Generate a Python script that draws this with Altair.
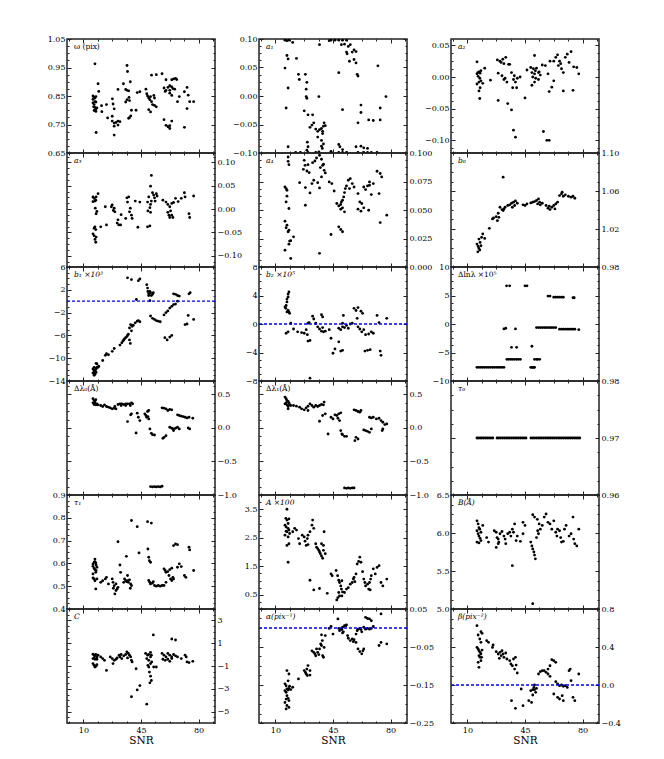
import math
import altair as alt
import pandas as pd

# ---------------- data (SNR, value) ----------------
OMEGA = [(17.0,0.963),(18.9,0.893),(19.3,0.866),(15.8,0.850),(16.5,0.846),(17.0,0.843),(17.6,0.848),(15.8,0.838),(17.0,0.830),(17.6,0.829),(15.8,0.826),(16.5,0.820),(17.0,0.810),(18.2,0.808),(17.4,0.803),(16.5,0.799),(17.6,0.796),(16.2,0.812),(17.7,0.722),(21.0,0.816),(24.0,0.820),(21.2,0.795),(24.7,0.773),(27.5,0.779),(27.6,0.840),(28.0,0.822),(28.7,0.805),(27.5,0.762),(28.7,0.755),(29.8,0.757),(31.0,0.762),(32.2,0.760),(31.0,0.748),(28.7,0.744),(28.7,0.713),(31.0,0.873),(34.3,0.893),(36.5,0.957),(36.8,0.936),(35.7,0.873),(36.5,0.870),(37.5,0.868),(37.7,0.845),(36.5,0.837),(35.7,0.829),(38.0,0.834),(38.5,0.900),(39.2,0.800),(38.8,0.780),(38.0,0.774),(37.5,0.772),(42.0,0.800),(42.7,0.862),(44.3,0.865),(48.0,0.874),(48.5,0.858),(49.0,0.850),(49.7,0.843),(50.4,0.837),(50.8,0.848),(51.4,0.830),(52.0,0.820),(53.2,0.817),(49.7,0.802),(50.8,0.794),(52.8,0.852),(53.2,0.843),(54.3,0.812),(51.4,0.923),(54.3,0.925),(57.8,0.928),(59.0,0.878),(59.7,0.866),(60.2,0.870),(61.4,0.880),(62.5,0.886),(63.7,0.882),(64.4,0.876),(65.5,0.874),(66.0,0.912),(66.7,0.908),(63.7,0.907),(64.8,0.910),(60.2,0.907),(62.5,0.860),(63.7,0.852),(62.5,0.870),(59.0,0.767),(60.2,0.747),(61.4,0.742),(62.5,0.736),(63.7,0.762),(62.5,0.746),(67.2,0.830),(68.3,0.848),(71.4,0.865),(73.0,0.880),(73.7,0.853),(74.6,0.830),(73.0,0.806),(77.0,0.830),(71.4,0.740)]

A1 = [(15.8,0.098),(17.0,0.097),(18.2,0.098),(20.5,0.094),(15.8,0.049),(17.0,0.071),(17.7,0.065),(22.8,0.066),(17.7,0.014),(16.5,-0.021),(24.0,0.038),(24.5,0.029),(28.2,0.038),(29.1,0.024),(28.7,0.012),(28.7,-0.001),(29.1,-0.004),(36.4,-0.001),(27.5,-0.026),(29.8,-0.033),(32.6,-0.033),(36.8,0.090),(31.0,-0.055),(32.2,-0.051),(33.3,-0.047),(34.5,-0.058),(35.7,-0.062),(36.8,-0.059),(38.0,-0.057),(39.2,-0.053),(39.6,-0.047),(40.3,-0.052),(38.7,-0.062),(42.7,0.097),(43.8,0.098),(46.2,0.098),(48.5,0.098),(50.8,0.098),(53.2,0.098),(48.5,0.041),(50.1,0.090),(52.0,0.091),(54.3,0.087),(55.5,0.090),(53.2,0.077),(53.6,0.074),(55.0,0.061),(56.7,0.077),(57.8,0.081),(59.0,0.078),(57.8,0.064),(59.0,0.058),(59.7,0.038),(60.2,0.035),(50.8,-0.024),(62.0,-0.016),(62.0,-0.029),(60.2,-0.047),(66.7,-0.042),(69.5,-0.043),(73.7,-0.042),(72.3,0.053),(73.7,-0.021),(77.2,-0.001),(17.7,-0.089),(22.3,-0.099),(25.2,-0.099),(29.8,-0.099),(34.5,-0.099),(43.8,-0.099),(48.5,-0.099),(50.8,-0.099),(53.2,-0.099),(60.2,-0.099),(63.7,-0.099),(66.0,-0.099),(68.3,-0.099),(71.8,-0.099),(38.7,-0.066),(35.7,-0.072),(38.0,-0.078),(39.2,-0.084),(38.0,-0.088),(38.5,-0.092),(36.4,-0.098),(29.4,-0.081),(29.8,-0.089),(29.1,-0.095),(48.5,-0.085),(49.2,-0.089),(50.8,-0.094),(43.8,-0.097),(59.0,-0.089),(62.0,-0.088),(63.7,-0.091),(66.0,-0.092)]

A2 = [(15.8,0.024),(16.3,0.007),(17.0,0.008),(17.7,0.006),(18.2,0.010),(15.8,0.005),(16.5,0.001),(17.5,-0.002),(17.0,-0.008),(18.2,-0.006),(15.8,-0.011),(17.7,-0.017),(17.0,-0.022),(17.5,-0.034),(19.3,-0.010),(20.5,0.014),(24.0,-0.005),(28.2,0.027),(29.8,0.025),(30.5,0.023),(31.5,0.028),(33.3,0.031),(32.2,0.021),(35.0,0.020),(28.7,0.006),(31.0,0.002),(32.2,-0.004),(32.9,-0.002),(34.0,-0.008),(28.7,-0.037),(35.7,0.020),(36.8,0.007),(38.5,0.002),(38.0,-0.004),(39.2,-0.008),(40.3,-0.002),(39.9,-0.017),(37.5,-0.017),(34.5,-0.042),(36.8,-0.052),(45.0,-0.033),(42.0,0.000),(46.2,0.011),(48.5,0.015),(49.2,0.007),(50.1,0.013),(50.8,0.005),(51.3,0.010),(52.0,0.014),(53.2,0.007),(53.6,0.008),(49.7,0.000),(51.5,-0.002),(50.8,-0.008),(53.2,-0.004),(54.3,0.003),(55.5,0.019),(57.4,0.018),(50.8,0.034),(49.2,-0.013),(59.0,0.005),(59.7,-0.023),(61.3,-0.016),(60.2,0.025),(62.5,0.025),(63.7,0.031),(64.8,0.035),(66.0,0.025),(65.3,0.018),(66.7,0.021),(67.2,0.013),(68.3,0.007),(69.5,0.031),(70.7,0.036),(71.8,0.023),(73.0,0.040),(74.6,0.016),(76.5,0.015),(77.7,0.005),(62.5,-0.006),(68.3,-0.022),(74.2,-0.021),(38.0,-0.084),(39.2,-0.095),(56.2,-0.086),(58.3,-0.100),(59.7,-0.100)]

A3 = [(15.8,0.026),(16.5,0.023),(17.0,0.017),(17.5,0.019),(15.8,0.016),(17.7,0.026),(18.9,0.033),(18.2,-0.005),(17.7,-0.010),(17.2,0.002),(17.0,-0.038),(16.5,-0.041),(17.5,-0.044),(15.8,-0.053),(16.5,-0.057),(17.7,-0.060),(17.0,-0.065),(17.5,-0.071),(20.5,-0.038),(24.0,-0.034),(23.3,0.005),(27.0,0.005),(27.5,0.009),(28.7,0.002),(28.2,-0.003),(29.1,-0.006),(30.5,-0.030),(31.5,-0.034),(32.6,-0.034),(31.0,-0.023),(32.9,-0.012),(35.7,-0.020),(36.4,0.024),(37.5,0.026),(36.8,0.015),(38.5,0.002),(38.0,-0.006),(39.2,-0.013),(39.6,-0.020),(41.5,0.017),(43.1,-0.039),(44.3,0.015),(49.0,0.015),(49.7,0.026),(50.4,0.003),(49.2,-0.004),(50.8,-0.007),(50.8,0.010),(49.0,-0.038),(50.4,-0.036),(51.3,0.072),(50.8,0.049),(52.0,0.035),(52.7,0.030),(53.2,0.024),(53.6,0.017),(54.3,0.033),(54.8,0.028),(51.3,0.017),(58.3,0.019),(60.2,0.015),(61.3,0.010),(62.5,0.005),(63.7,0.012),(64.8,0.014),(63.0,-0.004),(63.7,-0.013),(64.4,-0.018),(62.0,-0.013),(61.3,-0.007),(62.5,-0.018),(66.0,0.023),(67.6,0.016),(69.5,0.023),(71.4,0.035),(71.8,0.026),(74.2,-0.010),(74.6,-0.018),(77.0,0.028)]

A4 = [(17.7,0.0965),(17.7,0.0927),(18.2,0.0898),(15.8,0.0702),(16.5,0.0688),(17.0,0.0673),(17.0,0.0621),(16.5,0.0571),(18.2,0.0513),(15.8,0.0402),(17.0,0.0367),(16.5,0.0344),(18.2,0.0323),(17.7,0.0309),(18.6,0.0227),(19.3,0.0230),(15.8,0.0148),(21.0,0.0265),(18.2,0.0200),(19.3,0.0075),(24.7,0.0740),(27.5,0.0936),(28.0,0.0892),(27.0,0.0857),(29.8,0.0898),(29.1,0.0842),(30.5,0.0828),(32.6,0.0915),(34.0,0.0930),(35.0,0.0956),(36.8,0.0980),(38.0,0.0945),(38.7,0.0892),(39.6,0.0848),(40.3,0.0825),(39.2,0.0901),(37.3,0.0872),(28.2,0.0697),(31.0,0.0650),(32.2,0.0732),(33.3,0.0761),(35.7,0.0740),(36.8,0.0694),(38.0,0.0790),(28.2,0.0542),(42.7,0.0746),(44.3,0.0732),(45.7,0.0667),(47.3,0.0557),(48.5,0.0536),(49.7,0.0548),(50.1,0.0571),(50.8,0.0586),(51.5,0.0615),(52.0,0.0653),(52.5,0.0688),(53.2,0.0711),(54.3,0.0761),(55.5,0.0775),(55.0,0.0688),(56.7,0.0732),(57.8,0.0702),(50.8,0.0519),(49.7,0.0507),(52.0,0.0484),(43.8,0.0285),(48.5,0.0352),(49.7,0.0329),(50.8,0.0309),(60.2,0.0644),(61.3,0.0571),(62.5,0.0557),(63.7,0.0702),(64.8,0.0679),(66.0,0.0711),(67.2,0.0717),(68.3,0.0635),(69.5,0.0732),(67.2,0.0746),(66.7,0.0498),(62.0,0.0490),(60.2,0.0507),(63.7,0.0519),(71.8,0.0840),(73.7,0.0820),(74.6,0.0790),(73.0,0.0644),(73.7,0.0390),(77.7,0.0455),(36.8,0.0120)]

B0 = [(31.7,1.0746),(15.8,1.0041),(16.5,1.0017),(17.0,0.9996),(17.5,0.9978),(16.3,0.9960),(18.2,1.0024),(17.7,1.0059),(17.0,1.0094),(18.6,1.0112),(20.5,1.0101),(19.3,1.0147),(23.3,1.0207),(25.2,1.0306),(25.9,1.0316),(27.5,1.0330),(28.7,1.0366),(29.1,1.0323),(28.2,1.0288),(29.8,1.0429),(31.0,1.0404),(32.2,1.0411),(32.9,1.0429),(31.7,1.0394),(34.5,1.0447),(35.7,1.0454),(36.8,1.0471),(38.0,1.0482),(37.3,1.0429),(39.2,1.0496),(40.3,1.0471),(38.7,1.0447),(43.8,1.0454),(45.0,1.0447),(46.2,1.0464),(48.5,1.0475),(49.7,1.0482),(50.8,1.0489),(52.0,1.0500),(53.2,1.0517),(53.9,1.0482),(52.7,1.0464),(54.3,1.0454),(55.5,1.0471),(57.8,1.0447),(59.0,1.0419),(60.2,1.0404),(61.3,1.0429),(62.5,1.0447),(63.7,1.0464),(64.8,1.0482),(63.2,1.0411),(59.7,1.0440),(66.0,1.0552),(67.2,1.0570),(68.3,1.0545),(67.6,1.0588),(69.5,1.0560),(71.4,1.0545),(73.0,1.0535),(74.2,1.0545),(75.3,1.0524)]

B1 = [(15.8,-11.9),(16.5,-12.2),(17.0,-12.4),(17.5,-12.0),(17.7,-11.8),(18.2,-11.6),(15.8,-12.6),(17.0,-12.8),(17.7,-12.5),(16.5,-13.0),(18.2,-11.0),(16.5,-11.6),(17.0,-12.2),(18.9,-11.6),(19.3,-11.4),(17.7,-10.9),(21.7,-10.4),(23.3,-9.5),(24.0,-9.2),(25.2,-9.4),(27.5,-8.8),(28.7,-8.3),(32.2,-7.7),(33.3,-7.3),(34.0,-7.0),(34.5,-6.8),(35.0,-6.6),(35.7,-6.4),(36.4,-6.2),(36.8,-6.0),(37.3,-5.8),(38.0,-4.7),(38.7,-4.1),(39.6,-4.4),(40.3,-4.2),(39.2,-5.2),(41.5,-3.8),(42.7,-3.5),(43.4,-3.4),(44.3,-3.6),(38.0,-6.8),(38.5,-7.4),(36.8,4.1),(39.2,3.8),(42.2,0.3),(43.4,3.6),(44.3,3.9),(48.5,2.9),(49.0,2.3),(49.2,1.7),(49.7,1.3),(50.4,1.7),(50.8,1.5),(51.3,1.0),(52.0,1.2),(52.5,1.5),(49.7,1.0),(50.4,0.1),(50.8,-2.6),(52.0,-3.0),(53.2,-3.2),(54.3,-3.4),(55.5,-3.5),(56.7,-3.6),(59.5,-6.4),(60.9,-6.8),(62.5,-6.3),(63.7,-6.0),(59.0,-2.4),(60.2,-2.0),(61.3,-1.7),(62.5,-1.2),(63.7,-0.9),(64.8,-0.6),(66.0,-0.5),(67.2,0.0),(64.8,1.3),(66.0,1.2),(67.2,1.0),(68.3,0.9),(71.8,-4.1),(73.0,-4.0),(73.7,-2.5),(74.2,1.3),(74.9,1.5),(77.0,-3.2)]

B2 = [(15.8,2.4),(16.5,2.6),(17.0,3.1),(17.7,3.8),(17.7,4.2),(18.2,4.5),(17.0,3.5),(16.3,2.2),(17.7,1.9),(18.2,1.7),(18.6,1.5),(17.0,1.7),(17.7,-1.1),(16.5,-1.3),(19.3,0.1),(21.0,-0.7),(23.5,-1.1),(25.9,-1.2),(27.5,-1.3),(29.8,0.1),(30.5,0.2),(28.7,-0.8),(29.4,-1.5),(29.8,-2.4),(31.0,-2.3),(32.6,1.1),(33.3,0.7),(34.5,0.1),(35.7,-0.4),(36.8,-0.7),(38.0,-1.0),(38.7,-0.5),(39.2,-1.1),(38.0,1.3),(38.7,1.0),(40.3,-1.0),(42.7,-0.8),(43.8,-2.0),(45.0,-4.1),(46.2,-3.5),(48.5,-2.5),(49.7,-3.8),(50.8,-3.7),(48.5,-0.6),(49.7,-0.8),(50.8,-0.4),(52.0,-0.5),(53.2,-0.2),(54.3,-0.6),(55.5,0.0),(56.7,0.1),(50.8,0.1),(51.3,1.2),(57.8,2.2),(59.0,1.9),(60.2,2.3),(62.0,1.8),(63.0,1.5),(59.7,0.8),(60.2,-0.4),(61.3,-0.7),(62.5,-1.1),(63.7,-0.8),(64.8,-1.5),(66.7,-1.4),(68.3,-1.1),(69.5,-1.3),(64.4,-3.8),(66.0,-3.7),(67.6,-3.6),(71.8,1.2),(73.0,0.2),(73.7,-3.8),(74.2,-4.4),(77.7,0.8),(31.0,-7.6)]

DLNL = [(15.8,-7.6),(17.0,-7.6),(18.2,-7.6),(19.3,-7.6),(20.5,-7.6),(21.7,-7.6),(22.8,-7.6),(24.0,-7.6),(25.2,-7.6),(26.3,-7.6),(27.5,-7.6),(28.7,-7.6),(29.8,-7.6),(31.0,-7.6),(32.2,-7.6),(32.2,-0.86),(33.3,-0.75),(39.2,-0.86),(33.8,6.7),(35.7,6.7),(36.8,-4.1),(39.9,-4.1),(34.0,-6.2),(35.2,-6.2),(36.4,-6.2),(37.5,-6.2),(38.7,-6.2),(39.9,-6.2),(41.0,-6.2),(42.2,-6.2),(45.0,6.7),(46.2,6.7),(49.2,-3.9),(48.5,-7.6),(49.2,-7.6),(49.7,-7.6),(50.4,-7.6),(50.8,-7.6),(50.8,-6.2),(52.0,-6.2),(52.7,-6.2),(53.9,-6.2),(52.0,-0.63),(53.2,-0.63),(54.3,-0.63),(55.5,-0.63),(56.7,-0.63),(57.8,-0.63),(59.0,-0.63),(60.2,-0.63),(61.3,-0.63),(62.5,-0.63),(63.7,-0.63),(59.0,4.9),(60.2,4.9),(62.5,4.7),(63.7,4.7),(64.8,4.7),(66.0,4.7),(67.2,4.7),(68.3,4.7),(74.2,4.6),(74.9,4.6),(66.0,-0.9),(67.2,-0.9),(68.3,-0.9),(69.5,-0.9),(70.7,-0.9),(71.8,-0.9),(73.0,-0.9),(74.2,-0.9),(75.3,-0.9),(77.7,-1.0)]

DL0 = [(15.8,0.435),(16.5,0.41),(17.0,0.385),(17.5,0.42),(15.8,0.375),(16.5,0.35),(17.7,0.345),(18.2,0.36),(18.9,0.345),(17.0,0.36),(20.5,0.335),(21.7,0.32),(22.8,0.345),(24.0,0.32),(25.2,0.31),(26.3,0.30),(27.5,0.285),(28.7,0.295),(29.1,0.32),(29.8,0.285),(31.0,0.35),(32.2,0.36),(33.3,0.36),(34.5,0.35),(35.7,0.36),(36.8,0.36),(38.0,0.36),(39.2,0.375),(39.9,0.36),(38.5,0.335),(35.7,0.335),(32.9,0.335),(36.8,0.095),(38.7,0.195),(39.2,0.21),(42.7,0.22),(43.4,0.16),(44.3,0.11),(42.0,-0.075),(47.3,0.21),(48.0,0.185),(48.5,0.16),(49.2,0.17),(49.7,0.135),(49.0,0.245),(49.7,0.26),(50.4,-0.015),(51.3,-0.08),(52.0,-0.10),(53.2,-0.105),(57.8,0.30),(59.0,0.295),(60.2,0.285),(61.3,0.26),(62.5,0.275),(63.7,0.27),(62.5,0.01),(63.7,-0.005),(64.8,-0.015),(66.0,-0.005),(67.2,0.01),(64.8,-0.04),(68.3,-0.015),(59.0,-0.14),(60.2,-0.115),(58.3,-0.155),(67.2,0.195),(68.3,0.185),(69.5,0.175),(70.7,0.17),(71.8,0.16),(73.0,0.15),(74.2,0.16),(76.5,0.145),(73.7,0.0),(74.6,-0.015),(50.8,-0.875),(52.0,-0.88),(53.2,-0.875),(54.3,-0.88),(55.5,-0.875),(56.7,-0.88),(57.8,-0.87)]

DL1 = [(15.8,0.46),(16.5,0.435),(17.0,0.41),(17.7,0.395),(18.2,0.375),(15.8,0.36),(17.0,0.345),(17.7,0.32),(18.6,0.35),(19.3,0.335),(17.7,0.285),(16.5,0.375),(21.0,0.335),(22.8,0.325),(24.7,0.31),(25.9,0.285),(27.5,0.27),(28.7,0.30),(29.8,0.325),(31.0,0.36),(32.2,0.335),(33.3,0.31),(34.5,0.335),(35.7,0.32),(36.8,0.335),(38.0,0.35),(39.2,0.345),(39.6,0.385),(29.8,0.26),(36.8,0.10),(38.7,0.185),(40.3,0.21),(42.0,-0.09),(43.8,0.16),(45.0,0.135),(46.2,0.195),(47.3,0.185),(48.0,0.145),(48.5,0.21),(49.0,0.11),(49.7,0.225),(49.7,-0.04),(50.8,-0.10),(52.0,-0.125),(53.2,-0.125),(50.4,-0.09),(57.8,0.27),(59.0,0.26),(60.2,0.245),(61.3,0.235),(62.0,0.26),(63.7,-0.03),(64.8,-0.04),(66.0,-0.05),(67.2,-0.065),(68.3,-0.015),(59.0,-0.14),(60.2,-0.165),(58.3,-0.19),(67.2,0.16),(68.3,0.15),(69.5,0.16),(71.4,0.135),(73.0,0.145),(74.2,0.11),(75.3,0.085),(76.5,0.05),(77.7,0.06),(75.3,-0.015),(74.9,-0.04),(52.0,-0.895),(53.2,-0.90),(54.3,-0.895),(55.5,-0.90),(56.7,-0.895),(57.8,-0.895)]

TAU0_SNR = [15.8,16.8,17.8,18.8,19.9,21.0,22.1,23.2,24.3,25.4,28.0,29.1,30.2,31.3,32.4,33.5,34.6,35.7,36.8,37.9,39.0,40.1,41.2,42.3,43.4,44.5,45.6,48.6,49.7,50.8,51.9,53.0,54.1,55.2,56.3,57.4,58.5,59.6,60.7,61.8,62.9,64.0,65.1,66.2,67.3,68.4,69.5,70.6,71.7,72.8,73.9,75.0,76.1,77.2,78.3]
TAU0_VAL = 0.97

TAU1 = [(15.8,0.597),(16.5,0.605),(17.0,0.608),(17.5,0.602),(17.7,0.593),(15.8,0.587),(16.5,0.578),(17.0,0.573),(17.7,0.568),(18.2,0.583),(17.0,0.619),(17.5,0.561),(15.8,0.554),(16.5,0.532),(17.0,0.524),(18.2,0.532),(17.5,0.488),(15.8,0.536),(20.5,0.517),(21.7,0.524),(23.3,0.532),(24.0,0.539),(25.2,0.510),(27.5,0.532),(28.0,0.517),(28.7,0.502),(28.2,0.491),(29.1,0.466),(29.8,0.481),(30.5,0.488),(31.0,0.495),(29.8,0.510),(31.0,0.695),(32.2,0.593),(32.6,0.561),(34.5,0.517),(35.0,0.532),(35.7,0.524),(36.4,0.520),(36.8,0.524),(37.3,0.517),(38.0,0.528),(38.7,0.510),(39.2,0.503),(38.5,0.491),(36.8,0.547),(36.1,0.631),(39.2,0.788),(42.7,0.761),(43.8,0.646),(49.2,0.663),(49.7,0.627),(50.1,0.612),(50.8,0.605),(49.0,0.783),(51.3,0.777),(49.7,0.525),(50.4,0.517),(50.8,0.510),(52.0,0.514),(53.2,0.503),(54.3,0.500),(55.5,0.503),(56.7,0.500),(57.8,0.503),(52.5,0.520),(59.0,0.576),(59.7,0.569),(60.2,0.561),(61.3,0.564),(62.5,0.573),(63.7,0.579),(62.0,0.547),(63.0,0.532),(64.4,0.539),(64.8,0.532),(63.7,0.525),(60.2,0.517),(59.0,0.503),(64.8,0.678),(66.0,0.685),(67.2,0.682),(67.2,0.583),(68.3,0.598),(69.5,0.586),(71.4,0.547),(72.3,0.539),(74.2,0.671),(74.6,0.659),(77.0,0.569)]

AMP = [(17.0,3.50),(16.3,3.18),(17.0,3.12),(18.2,3.16),(17.7,3.00),(15.8,2.94),(16.5,2.88),(17.7,2.83),(18.2,2.77),(17.0,2.71),(18.6,2.65),(15.8,2.59),(17.7,2.53),(16.5,2.73),(18.2,2.29),(17.0,2.23),(17.7,1.64),(20.5,2.71),(21.7,2.83),(22.8,2.77),(24.0,2.47),(24.7,2.29),(26.3,2.59),(27.5,2.53),(28.0,2.38),(28.7,2.23),(29.4,2.47),(29.8,2.59),(31.0,2.71),(32.2,2.94),(32.6,3.12),(33.3,2.83),(29.8,2.26),(34.5,2.29),(35.0,2.17),(35.7,2.12),(36.4,2.06),(36.8,2.00),(37.3,1.94),(38.0,1.86),(38.7,1.78),(38.0,2.29),(39.2,2.23),(39.6,2.71),(39.2,2.06),(40.3,1.94),(31.0,1.01),(33.3,0.67),(36.8,0.72),(41.5,0.55),(43.8,1.23),(44.5,1.17),(46.9,1.35),(47.8,1.17),(48.5,1.01),(49.0,0.93),(49.7,0.81),(50.1,0.70),(50.8,0.60),(49.0,0.46),(47.3,0.32),(48.0,0.40),(48.5,0.58),(50.4,0.46),(52.0,0.58),(53.2,0.70),(54.3,0.75),(55.5,0.87),(56.7,0.93),(57.4,1.05),(57.8,1.11),(58.3,0.96),(59.0,1.23),(59.7,1.58),(60.6,1.67),(61.3,1.82),(62.0,1.64),(63.0,1.31),(63.7,1.05),(64.4,0.93),(64.8,0.81),(66.0,0.87),(67.2,0.93),(67.9,1.05),(68.3,1.17),(66.7,0.70),(67.6,0.67),(69.5,1.41),(70.7,1.23),(71.8,1.46),(73.0,1.52),(74.2,0.93),(75.3,0.81),(77.7,1.05),(50.4,0.99)]

BW = [(15.8,6.16),(16.5,6.12),(17.0,6.07),(17.5,6.05),(15.8,6.03),(16.5,5.99),(17.0,5.96),(17.7,5.93),(18.2,5.90),(15.8,5.88),(17.0,5.87),(18.2,6.01),(19.3,6.10),(21.7,5.94),(22.8,5.88),(26.3,6.03),(27.5,6.01),(28.0,5.94),(28.7,5.92),(29.1,5.88),(27.5,5.81),(28.7,5.86),(29.8,5.99),(31.0,6.02),(32.2,5.96),(32.9,5.92),(33.3,5.86),(34.5,5.99),(35.7,6.01),(36.4,5.96),(37.3,6.05),(38.0,6.01),(38.7,6.12),(39.6,5.90),(40.3,5.96),(42.2,5.89),(43.8,5.99),(37.3,5.57),(43.8,6.14),(45.0,6.10),(48.5,5.88),(49.2,5.83),(49.7,5.79),(50.4,5.75),(50.8,5.71),(51.3,5.66),(52.0,5.94),(53.2,5.99),(52.7,6.03),(49.7,6.24),(50.8,6.21),(52.5,6.18),(53.6,6.12),(54.3,6.05),(55.5,6.10),(56.7,6.21),(57.8,6.25),(59.0,6.14),(60.2,6.12),(61.3,6.05),(62.5,6.16),(63.7,6.01),(64.4,5.96),(64.8,6.05),(66.0,6.03),(66.7,5.94),(67.2,5.88),(68.3,5.89),(69.0,6.05),(70.0,6.10),(71.8,5.96),(73.0,5.99),(74.2,6.21),(74.6,5.92),(75.3,5.86),(76.5,5.83),(77.7,6.05),(49.7,5.07)]

CC = [(15.8,0.04),(16.5,-0.05),(17.0,-0.11),(17.5,0.01),(18.2,-0.20),(15.8,-0.35),(16.5,-0.29),(17.0,-0.41),(15.8,-0.79),(16.5,-0.94),(17.7,-1.00),(18.2,-0.88),(17.0,-1.09),(18.9,-0.05),(18.2,-0.41),(20.5,-0.20),(21.7,-0.35),(22.8,-0.50),(24.0,-1.39),(26.3,-0.20),(27.5,-0.35),(28.7,-0.50),(28.0,-0.79),(29.8,-0.41),(30.5,-0.29),(31.7,-0.05),(32.2,-0.20),(32.9,0.01),(33.3,-0.35),(34.5,-0.11),(35.7,0.01),(36.4,0.24),(37.3,0.10),(38.0,-0.05),(38.7,-0.20),(39.2,-0.50),(39.6,-0.64),(36.8,-0.29),(42.0,-1.24),(44.3,-2.72),(42.7,-3.10),(39.2,-3.70),(47.8,0.10),(49.0,-0.05),(49.7,0.01),(50.8,0.19),(51.3,-0.05),(48.5,-0.35),(49.7,-0.50),(50.8,-0.20),(51.5,-0.64),(50.8,-0.79),(49.7,-1.09),(50.1,-1.53),(50.8,-1.89),(51.3,-2.27),(50.4,-2.48),(49.2,-0.94),(52.7,-1.09),(48.5,-4.35),(52.5,1.73),(54.3,-1.09),(57.8,0.10),(59.0,-0.05),(60.2,-0.20),(61.3,0.10),(62.5,-0.05),(63.7,-0.20),(64.8,0.01),(66.0,-0.11),(67.2,-0.20),(58.3,-0.41),(59.7,-0.50),(61.3,-0.41),(62.5,-0.59),(63.7,-0.35),(63.7,1.37),(66.0,1.28),(69.5,-0.35),(71.8,-0.05),(72.5,-0.20),(73.0,-0.64),(74.2,-0.70),(76.5,-0.59)]

ALPHA = [(15.8,-0.147),(16.5,-0.152),(17.0,-0.160),(17.7,-0.163),(18.2,-0.159),(15.8,-0.165),(16.5,-0.169),(17.0,-0.178),(17.7,-0.185),(18.2,-0.191),(15.8,-0.196),(17.0,-0.204),(18.2,-0.209),(16.5,-0.213),(17.7,-0.139),(17.0,-0.112),(18.2,-0.121),(18.6,-0.153),(19.3,-0.162),(20.5,-0.156),(16.5,-0.187),(24.0,-0.134),(27.5,-0.112),(28.2,-0.117),(28.7,-0.121),(29.1,-0.108),(29.8,-0.099),(31.0,-0.112),(29.4,-0.125),(31.0,-0.124),(32.2,-0.060),(33.3,-0.064),(34.0,-0.068),(34.5,-0.073),(35.0,-0.055),(35.7,-0.064),(36.4,-0.070),(36.8,-0.055),(37.5,-0.042),(38.0,-0.046),(38.7,-0.073),(39.2,-0.077),(39.6,-0.051),(38.5,-0.033),(38.0,-0.018),(40.3,-0.020),(42.7,-0.001),(43.8,0.004),(45.0,-0.016),(48.0,0.024),(48.5,-0.001),(49.0,-0.007),(49.7,-0.003),(50.4,-0.004),(50.8,0.002),(51.3,-0.010),(52.0,0.006),(52.7,0.006),(53.2,0.008),(53.9,-0.020),(54.3,-0.027),(55.5,-0.033),(56.7,-0.029),(57.4,-0.036),(57.8,-0.031),(50.8,-0.013),(59.0,-0.016),(59.7,-0.007),(60.2,-0.003),(61.3,-0.001),(62.0,-0.004),(62.5,-0.010),(63.7,0.002),(64.8,-0.003),(66.0,-0.001),(67.2,-0.003),(68.3,-0.001),(69.5,0.004),(59.0,-0.038),(60.2,-0.055),(61.3,-0.062),(62.5,-0.068),(63.2,-0.060),(63.7,-0.055),(64.8,0.028),(66.0,0.025),(67.2,0.024),(68.3,0.019),(73.0,-0.046),(74.2,-0.038),(74.2,0.037),(77.7,-0.042)]

BETA = [(15.8,0.625),(16.5,0.526),(18.2,0.561),(18.9,0.544),(17.5,0.484),(18.2,0.449),(15.8,0.396),(16.5,0.379),(17.0,0.361),(17.7,0.344),(18.2,0.326),(18.9,0.368),(17.0,0.309),(17.7,0.291),(18.2,0.256),(16.5,0.239),(17.0,0.186),(18.6,0.291),(21.7,0.467),(22.8,0.449),(25.2,0.396),(25.6,0.421),(27.5,0.351),(28.7,0.326),(29.8,0.344),(30.5,0.309),(31.0,0.361),(31.7,0.326),(32.2,0.291),(29.4,0.281),(33.3,0.337),(34.0,0.274),(35.7,0.256),(36.4,0.221),(37.3,0.203),(38.0,0.274),(39.2,0.291),(39.6,0.210),(40.3,0.126),(38.7,0.168),(36.8,-0.165),(39.2,-0.246),(42.7,-0.042),(43.8,-0.218),(47.3,-0.165),(49.0,-0.183),(49.7,-0.105),(50.4,-0.025),(50.8,-0.049),(51.5,-0.077),(52.0,-0.035),(50.8,0.000),(49.7,-0.049),(48.5,-0.060),(53.2,0.116),(54.3,0.140),(55.5,0.151),(56.7,0.151),(57.8,0.133),(59.0,0.116),(60.2,0.091),(61.3,0.267),(62.5,0.256),(63.7,0.239),(60.2,0.203),(59.0,0.168),(63.7,0.035),(64.8,0.011),(66.0,-0.007),(67.2,0.000),(68.3,-0.014),(69.5,-0.007),(70.7,-0.025),(62.5,-0.095),(64.8,-0.130),(66.0,-0.147),(67.6,-0.112),(68.3,-0.165),(71.8,0.151),(72.5,0.168),(73.0,0.046),(74.2,-0.130),(75.3,-0.165),(77.7,0.116)]

# x-axis tick positions
X_MAJOR = [10, 45, 80]
X_MINOR = [1.25, 18.75, 27.5, 36.25, 53.75, 62.5, 71.25, 88.75]

FONT = "DejaVu Serif"
FRAME = "#222222"

PANELS = [
    dict(data=OMEGA, label="ω (pix)", italic=False, domain=[0.65, 1.05], major=[0.65, 0.75, 0.85, 0.95, 1.05], fmt=".2f"),
    dict(data=A1, label="a₁", italic=True, domain=[-0.10, 0.10], major=[-0.10, -0.05, 0.0, 0.05, 0.10], fmt=".2f"),
    dict(data=A2, label="a₂", italic=True, domain=[-0.12, 0.06], major=[-0.10, -0.05, 0.0, 0.05], fmt=".2f"),
    dict(data=A3, label="a₃", italic=True, domain=[-0.124, 0.12], major=[-0.10, -0.05, 0.0, 0.05, 0.10], fmt=".2f"),
    dict(data=A4, label="a₄", italic=True, domain=[0.0, 0.10], major=[0.0, 0.025, 0.05, 0.075, 0.10], fmt=".3f"),
    dict(data=B0, label="b₀", italic=True, domain=[0.98, 1.10], major=[0.98, 1.02, 1.06, 1.10], fmt=".2f"),
    dict(data=B1, label="b₁ ×10³", italic=True, domain=[-14, 6], major=[-14, -10, -6, -2, 2, 6], fmt="d", ref=0),
    dict(data=B2, label="b₂ ×10⁵", italic=True, domain=[-8, 8], major=[-8, -4, 0, 4, 8], fmt="d", ref=0),
    dict(data=DLNL, label="Δlnλ ×10⁵", italic=False, domain=[-10, 10], major=[-10, -5, 0, 5, 10], fmt="d"),
    dict(data=DL0, label="Δλ₀(Å)", italic=False, domain=[-1.0, 0.7], major=[-1.0, -0.5, 0.0, 0.5], fmt=".1f"),
    dict(data=DL1, label="Δλ₁(Å)", italic=False, domain=[-1.0, 0.7], major=[-1.0, -0.5, 0.0, 0.5], fmt=".1f"),
    dict(data=[(s, TAU0_VAL) for s in TAU0_SNR], label="τ₀", italic=True, domain=[0.96, 0.98], major=[0.96, 0.97, 0.98], fmt=".2f"),
    dict(data=TAU1, label="τ₁", italic=True, domain=[0.4, 0.9], major=[0.4, 0.5, 0.6, 0.7, 0.8, 0.9], fmt=".1f"),
    dict(data=AMP, label="A ×100", italic=True, domain=[0.0, 4.0], major=[0.5, 1.5, 2.5, 3.5], fmt=".1f"),
    dict(data=BW, label="B(Å)", italic=True, domain=[5.0, 6.5], major=[5.0, 5.5, 6.0, 6.5], fmt=".1f"),
    dict(data=CC, label="C", italic=True, domain=[-6, 4], major=[-5, -3, -1, 1, 3], fmt="d"),
    dict(data=ALPHA, label="α(pix⁻¹)", italic=True, domain=[-0.25, 0.05], major=[-0.25, -0.15, -0.05, 0.05], fmt=".2f", ref=0),
    dict(data=BETA, label="β(pix⁻²)", italic=True, domain=[-0.4, 0.8], major=[-0.4, 0.0, 0.4, 0.8], fmt=".1f", ref=0),
]

W, H = 148, 114


def minor_ticks(major, domain):
    step = abs(major[1] - major[0]) / 4.0
    lo, hi = domain
    start = min(major)
    k = math.floor((lo - start) / step) - 1
    vals = []
    while True:
        v = start + k * step
        if v > hi + 1e-9:
            break
        if v >= lo - 1e-9 and all(abs(v - m) > step / 10 for m in major):
            vals.append(round(v, 6))
        k += 1
    return vals


def make_panel(spec, side, bottom):
    df = pd.DataFrame(spec["data"], columns=["snr", "v"])
    xs = alt.Scale(domain=[0, 90], nice=False, zero=False)
    ys = alt.Scale(domain=spec["domain"], nice=False, zero=False)
    other = "right" if side == "left" else "left"
    base = alt.Chart(df)
    if bottom:
        xaxis = alt.Axis(orient="bottom", values=X_MAJOR, ticks=False, domain=False, grid=False,
                         title="SNR", labelPadding=3, titlePadding=1, labelFlush=False)
    else:
        xaxis = None
    pts = base.mark_circle(size=8, color="black", opacity=1, clip=True).encode(
        x=alt.X("snr:Q", scale=xs, axis=xaxis),
        y=alt.Y("v:Q", scale=ys, axis=alt.Axis(orient=side, values=spec["major"], format=spec["fmt"],
                                               ticks=False, domain=False, grid=False, title=None,
                                               labelPadding=2, labelOverlap=False)),
    )
    layers = [pts]
    ymin = minor_ticks(spec["major"], spec["domain"])
    for xo, yo, xv, yv, sz in [("bottom", side, X_MAJOR, spec["major"], 4),
                               ("bottom", side, X_MINOR, ymin, 2),
                               ("top", other, X_MAJOR, spec["major"], 4),
                               ("top", other, X_MINOR, ymin, 2)]:
        layers.append(base.mark_point(opacity=0).encode(
            x=alt.X("snr:Q", scale=xs, axis=alt.Axis(orient=xo, values=xv, labels=False, domain=False,
                                                     grid=False, tickSize=sz, offset=-sz, title=None)),
            y=alt.Y("v:Q", scale=ys, axis=alt.Axis(orient=yo, values=yv, labels=False, domain=False,
                                                   grid=False, tickSize=sz, offset=-sz, title=None)),
        ))
    if "ref" in spec:
        layers.append(alt.Chart(pd.DataFrame({"v": [spec["ref"]]})).mark_rule(
            color="#0000ff", strokeDash=[3, 2], strokeWidth=1.3).encode(
            y=alt.Y("v:Q", scale=ys, axis=None)))
    txt = alt.Chart(pd.DataFrame({"t": [spec["label"]]})).mark_text(
        align="left", baseline="top", font=FONT, fontSize=7.5, color="black",
        fontStyle="italic" if spec["italic"] else "normal").encode(
        x=alt.value(7), y=alt.value(4), text="t:N")
    layers.append(txt)
    return alt.layer(*layers).properties(width=W, height=H).resolve_axis(x="independent", y="independent")


panels = []
for i, spec in enumerate(PANELS):
    row = i // 3
    side = "left" if row % 2 == 0 else "right"
    panels.append(make_panel(spec, side, row == 5))

chart = alt.concat(*panels, columns=3, spacing=alt.RowColnumber(row=0, column=44), bounds="flush").properties(
    padding={"left": 38, "top": 26, "right": 5, "bottom": 5}
).configure_axis(
    labelFont=FONT, labelFontSize=8, labelColor="black",
    titleFont=FONT, titleFontSize=10.5, titleFontWeight="normal", titleColor="black",
    tickColor=FRAME, tickWidth=1,
).configure_view(stroke=FRAME, strokeWidth=1.5)

chart.save("out.html", embed_options={"renderer": "svg", "actions": False})
